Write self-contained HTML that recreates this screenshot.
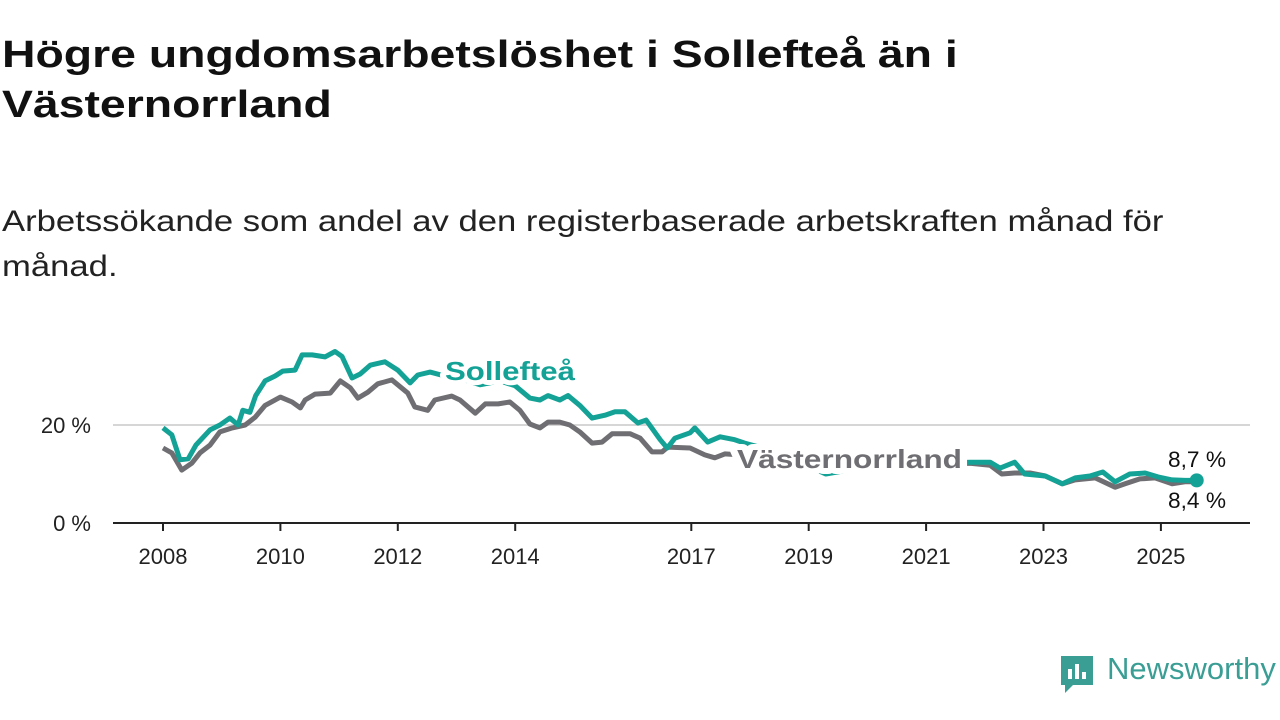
<!DOCTYPE html>
<html><head><meta charset="utf-8"><style>
body{margin:0;background:#fff;width:1280px;height:720px;overflow:hidden;font-family:"Liberation Sans",sans-serif;}
h1{position:absolute;left:2px;top:30px;margin:0;font-size:38px;line-height:50px;font-weight:bold;color:#111;white-space:nowrap;transform:scaleX(1.22);transform-origin:0 0}
p{position:absolute;left:2px;top:199px;margin:0;font-size:30px;line-height:45px;color:#222;white-space:nowrap;transform:scaleX(1.155);transform-origin:0 0}
</style></head><body>
<h1>Högre ungdomsarbetslöshet i Sollefteå än i<br>Västernorrland</h1>
<p>Arbetssökande som andel av den registerbaserade arbetskraften månad för<br>månad.</p>
<svg id="c" width="1280" height="720" style="position:absolute;left:0;top:0"></svg>
<script>
const years=[2008,2010,2012,2014,2017,2019,2021,2023,2025];
const yTicks=[0,20];
const solT=[2008.00,2008.15,2008.29,2008.43,2008.56,2008.80,2008.97,2009.14,2009.28,2009.36,2009.48,2009.58,2009.74,2009.91,2010.04,2010.25,2010.37,2010.54,2010.76,2010.93,2011.05,2011.22,2011.36,2011.53,2011.78,2012.00,2012.21,2012.34,2012.55,2012.80,2013.06,2013.40,2013.74,2014.00,2014.25,2014.42,2014.56,2014.76,2014.90,2015.10,2015.31,2015.53,2015.70,2015.87,2016.09,2016.23,2016.47,2016.59,2016.72,2016.98,2017.06,2017.28,2017.49,2017.74,2017.91,2018.34,2018.85,2019.29,2019.87,2020.56,2021.24,2021.75,2022.09,2022.26,2022.51,2022.68,2023.03,2023.32,2023.54,2023.79,2024.01,2024.22,2024.47,2024.73,2024.95,2025.19,2025.41,2025.61];
const solV=[19.4,18.0,12.9,13.1,15.9,19.0,20.0,21.4,20.0,23.0,22.6,26.0,29.0,30.0,31.0,31.2,34.3,34.3,33.9,35.0,34.0,29.6,30.4,32.2,32.9,31.2,28.6,30.2,30.8,30.0,29.5,28.2,29.0,28.0,25.5,25.1,26.0,25.1,26.0,24.0,21.4,22.0,22.7,22.7,20.4,21.0,17.0,15.3,17.3,18.4,19.4,16.5,17.6,17.0,16.3,14.9,12.4,10.0,11.2,13.3,12.2,12.4,12.4,11.2,12.4,10.0,9.6,8.0,9.2,9.6,10.4,8.4,10.0,10.2,9.4,8.8,8.7,8.7];
const vnT=[2008.00,2008.15,2008.32,2008.49,2008.63,2008.80,2008.97,2009.18,2009.40,2009.57,2009.74,2010.00,2010.20,2010.34,2010.42,2010.59,2010.85,2011.02,2011.19,2011.32,2011.49,2011.66,2011.90,2012.00,2012.17,2012.29,2012.51,2012.63,2012.92,2013.06,2013.32,2013.49,2013.71,2013.91,2014.08,2014.25,2014.42,2014.56,2014.76,2014.93,2015.10,2015.31,2015.48,2015.65,2015.96,2016.13,2016.33,2016.50,2016.60,2016.98,2017.23,2017.40,2017.57,2017.83,2018.34,2018.85,2019.36,2020.04,2020.73,2021.24,2021.75,2022.09,2022.29,2022.51,2022.77,2023.03,2023.32,2023.54,2023.88,2024.22,2024.39,2024.64,2024.90,2025.19,2025.41,2025.61];
const vnV=[15.3,14.3,10.8,12.2,14.3,15.9,18.6,19.4,20.0,21.6,24.0,25.7,24.7,23.5,25.1,26.3,26.5,29.0,27.6,25.5,26.7,28.4,29.2,28.2,26.5,23.7,23.0,25.1,25.9,25.1,22.4,24.3,24.3,24.7,23.0,20.2,19.4,20.6,20.6,20.0,18.6,16.3,16.5,18.2,18.2,17.3,14.5,14.5,15.5,15.3,13.9,13.3,14.1,13.9,13.0,11.5,10.5,11.5,12.5,12.0,12.2,11.8,10.0,10.2,10.2,9.6,8.0,8.8,9.2,7.3,8.0,9.0,9.2,8.0,8.4,8.4];
const sx=t=>163+(t-2008)*58.7;
const sy=v=>523-v*4.9;
const svg=document.getElementById('c');
const NS='http://www.w3.org/2000/svg';
function mk(tag,attrs,parent){const e=document.createElementNS(NS,tag);for(const k in attrs)e.setAttribute(k,attrs[k]);(parent||svg).appendChild(e);return e;}
yTicks.forEach(v=>{
  if(v>0){const g=mk('line',{x1:113,x2:1250,y1:sy(v),y2:sy(v),stroke:'#d6d6d6','stroke-width':2});
  
  }
  const t=mk('text',{x:91,y:sy(v)+8,'text-anchor':'end','font-size':22,fill:'#222'});t.textContent=v+' %';
  
  
});
const ax=mk('line',{x1:113,x2:1250,y1:523,y2:523,stroke:'#222','stroke-width':2});


years.forEach(y=>{
  const tk=mk('line',{x1:sx(y),x2:sx(y),y1:523,y2:531,stroke:'#222','stroke-width':2});
  
  
  const t=mk('text',{x:sx(y),y:564,'text-anchor':'middle','font-size':22,fill:'#222'});t.textContent=y;
  
  
});
function line(T,V,col,name){const d=T.map((t,i)=>(i?'L':'M')+sx(t).toFixed(1)+','+sy(V[i]).toFixed(1)).join('');
  const p=mk('path',{d:d,fill:'none',stroke:col,'stroke-width':5,'stroke-linejoin':'round'});
  
  return p;}
line(vnT,vnV,'#6f6e72','vasternorrland-line');
line(solT,solV,'#13a295','solleftea-line');
const dot=mk('circle',{cx:sx(solT[solT.length-1]),cy:sy(solV[solV.length-1]),r:7,fill:'#13a295'});


function lab(x,y,txt,col,name,bold,size,halo,sc){const t=mk('text',{x:x,y:y,'font-size':size,'font-weight':bold?'bold':'normal',fill:col,'textLength':sc,'lengthAdjust':'spacingAndGlyphs'});
  if(halo){t.setAttribute('stroke','#fff');t.setAttribute('stroke-width',halo);t.setAttribute('paint-order','stroke');t.setAttribute('stroke-linejoin','round');}
  t.textContent=txt;
  
  }
lab(445,380,'Sollefteå','#13a295','solleftea-label',true,26,10,130);
lab(737,468,'Västernorrland','#6f6e72','vasternorrland-label',true,26,12,225);
lab(1168,467,'8,7 %','#111','solleftea-end-value',false,22,6,58);
lab(1168,508,'8,4 %','#111','vasternorrland-end-value',false,22,6,58);
</script>
<div style="position:absolute;left:1059px;top:655px;height:40px;">
<svg width="36" height="40" style="position:absolute;left:0;top:0"><path d="M2 1h32v29H14l-8 8v-8H2z" fill="#3a9e95"/><rect x="9" y="14" width="4" height="10" fill="#fff"/><rect x="16" y="9" width="4" height="15" fill="#fff"/><rect x="23" y="17" width="4" height="7" fill="#fff"/></svg>
<span style="position:absolute;left:48px;top:-4px;font-size:31px;color:#3a9e95;white-space:nowrap;">Newsworthy</span></div>
</body></html>
